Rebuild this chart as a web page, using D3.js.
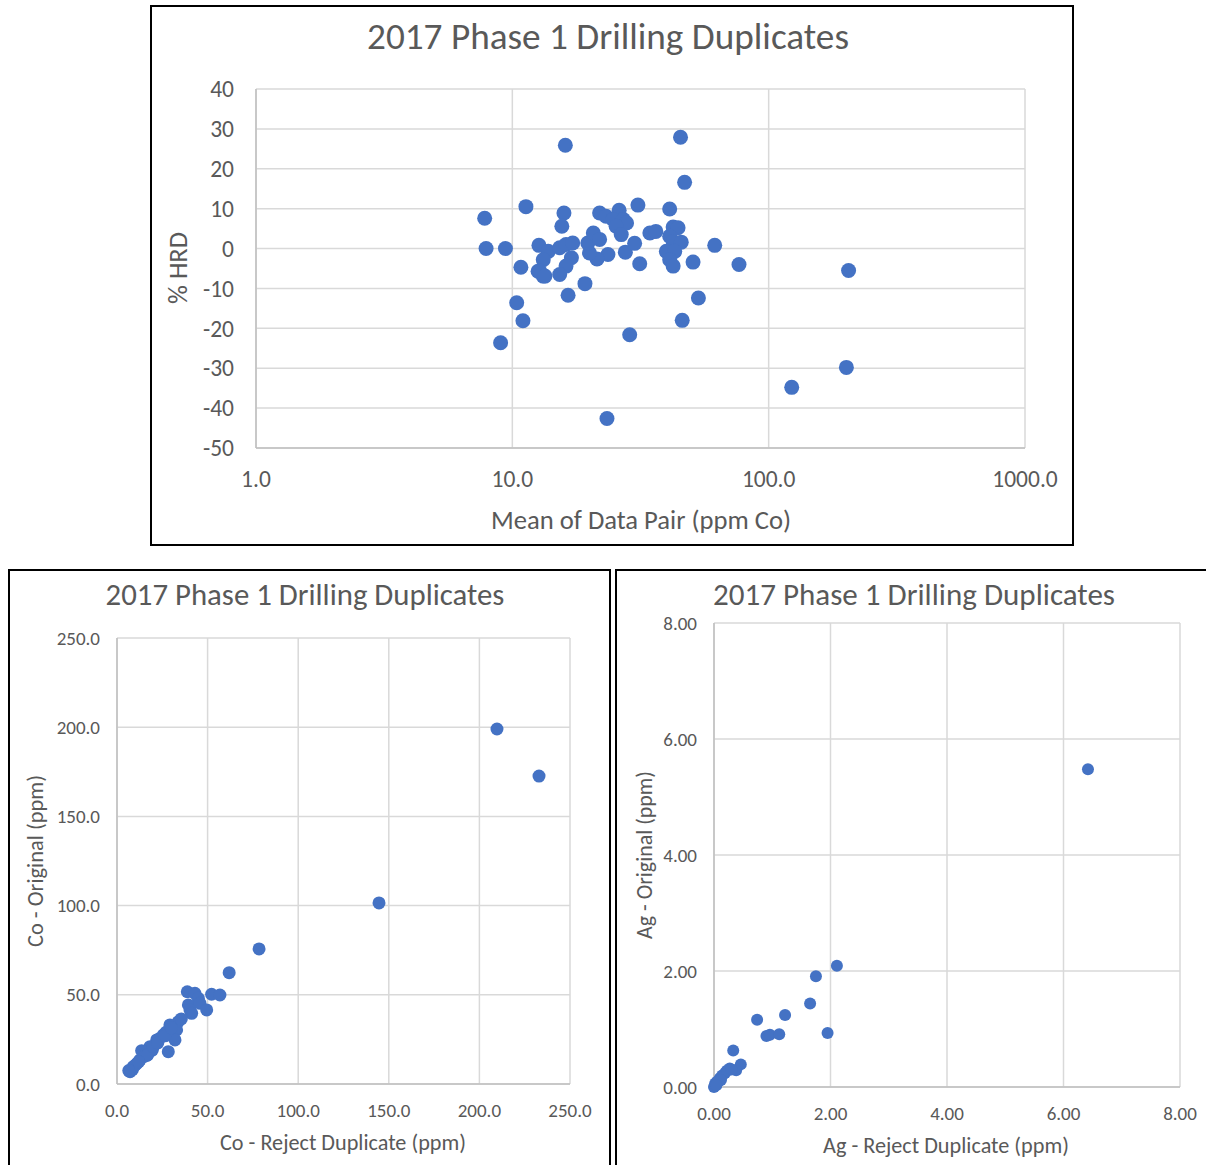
<!DOCTYPE html>
<html><head><meta charset="utf-8">
<script src="https://cdn.jsdelivr.net/npm/d3@7"></script>
<style>body{margin:0;background:#fff}svg{display:block}text{font-family:Carlito,Calibri,Lato,"Open Sans",sans-serif;fill:#595959}</style>
</head><body>
<svg id="c" width="1206" height="1165"></svg>
<script>
const chartTitle = "2017 Phase 1 Drilling Duplicates";
// Chart 1: Mean of data pair (ppm Co) vs % HRD
const hrdMean = [11.3,7.8,7.9,9.4,12.7,10.8,12.6,13.2,10.4,11.0,9.0,
  16.1,45.3,47.0,15.9,15.6,21.9,26.1,30.9,41.1,23.2,24.7,27.1,27.9,25.4,26.6,34.4,42.4,44.3,
  41.1,42.4,45.6,39.9,43.0,41.1,42.4,61.6,50.7,76.6,53.2,46.0,31.4,27.6,30.0,
  23.6,21.4,20.0,19.7,20.7,21.9,19.2,16.5,13.8,13.2,12.8,13.4,
  15.3,16.2,17.2,17.0,16.2,15.3,205,201,123,23.4,28.7,36.3];
const hrdValue = [10.5,7.6,0,0,0.8,-4.7,-5.7,-6.9,-13.6,-18.1,-23.6,
  25.9,27.9,16.6,8.9,5.6,8.9,9.6,10.9,9.9,8.1,7.3,7.3,6.4,5.6,3.5,3.9,5.4,5.2,
  3.1,1.8,1.6,-0.7,-0.7,-2.8,-4.4,0.8,-3.4,-4.0,-12.4,-18.0,-3.8,-0.9,1.3,
  -1.5,-2.6,-1.1,1.4,3.9,2.3,-8.8,-11.7,-0.7,-2.8,-5.7,-6.9,
  0.2,1.0,1.4,-2.3,-4.4,-6.5,-5.5,-29.8,-34.8,-42.6,-21.6,4.3];
const hrdXTicks = [1,10,100,1000];
const hrdYTicks = [40,30,20,10,0,-10,-20,-30,-40,-50];

// Chart 2: Co reject duplicate vs Co original
const coDup  = [209.7,232.9,144.6,78.4,61.9,38.8,43.0,44.9,52.2,56.8,39.4,40.3,41.2,45.8,49.5,33.8,29.2,32.9,32.0,28.3,25.6,21.9,18.2,14.5,12.7,9.0,7.2,13.6,16.5,11.0,23.5,19.5,27.0,35.5,8.5,
  10.0,15.0,17.0,20.0,22.5,26.5,30.0,12.0,6.5];
const coOrig = [199.0,172.6,101.5,75.7,62.4,51.7,50.8,48.0,50.3,49.9,44.3,41.5,39.6,45.2,41.5,34.9,33.1,30.3,24.7,18.1,27.5,24.7,20.9,18.1,13.5,9.7,6.9,18.7,16.0,11.5,25.5,19.0,29.0,36.5,8.0,
  10.5,15.5,16.5,21.0,23.0,27.0,31.5,12.5,7.5];
const coTicks = [0,50,100,150,200,250];

// Chart 3: Ag reject duplicate vs Ag original
const agDup  = [6.42,2.11,1.75,1.65,1.95,1.22,0.74,0.90,0.96,1.12,0.33,0.46,0.38,0.27,0.19,0.10,0.02,0.00,0.05,0.14,0.22,0.30,0.08,0.12,0.04];
const agOrig = [5.48,2.09,1.91,1.44,0.93,1.24,1.16,0.88,0.90,0.91,0.63,0.39,0.29,0.32,0.24,0.15,0.06,0.00,0.09,0.20,0.28,0.30,0.10,0.12,0.03];
const agTicks = [0,2,4,6,8];

const BLUE = "#4472C4", GRID = "#d9d9d9";
const svg = d3.select("#c");

function fit(t, w){
  let fs = parseFloat(t.attr("font-size"));
  const L = t.node().getComputedTextLength();
  t.attr("font-size", (fs*w/L).toFixed(2));
}

// frames
svg.append("rect").attr("x",151).attr("y",6).attr("width",922).attr("height",539).attr("fill","none").attr("stroke","#000").attr("stroke-width",2);
svg.append("rect").attr("x",9).attr("y",570).attr("width",601).attr("height",620).attr("fill","none").attr("stroke","#000").attr("stroke-width",2);
svg.append("rect").attr("x",616).attr("y",570).attr("width",620).attr("height",620).attr("fill","none").attr("stroke","#000").attr("stroke-width",2);

function drawChart(o){
  const g = svg.append("g");
  const x = o.x, y = o.y;
  const [x0,x1] = x.range(), [y0,y1] = y.range();
  g.selectAll(".hg").data(o.yTicks).join("line")
    .attr("x1",x0).attr("x2",x1).attr("y1",d=>y(d)).attr("y2",d=>y(d))
    .attr("stroke",GRID).attr("stroke-width",1.5);
  g.selectAll(".vg").data(o.xTicks).join("line")
    .attr("y1",y0).attr("y2",y1).attr("x1",d=>x(d)).attr("x2",d=>x(d))
    .attr("stroke",GRID).attr("stroke-width",1.5);
  g.append("line").attr("x1",x0).attr("x2",x1).attr("y1",y(o.yBase)).attr("y2",y(o.yBase)).attr("stroke","#bfbfbf").attr("stroke-width",1.5);
  g.append("line").attr("x1",x0).attr("x2",x0).attr("y1",y0).attr("y2",y1).attr("stroke","#bfbfbf").attr("stroke-width",1.5);
  g.selectAll(".yl").data(o.yTicks).join("text")
    .attr("x",o.yLabX).attr("y",d=>y(d)).attr("dy","0.35em").attr("text-anchor","end")
    .attr("font-size",o.tickFs).text(o.yFmt);
  g.selectAll(".xl").data(o.xTicks).join("text")
    .attr("x",d=>x(d)).attr("y",o.xLabY).attr("dy","0.35em").attr("text-anchor","middle")
    .attr("font-size",o.tickFs).text(o.xFmt);
  g.selectAll("circle").data(o.xs.map((v,i)=>[v,o.ys[i]])).join("circle")
    .attr("cx",d=>x(d[0])).attr("cy",d=>y(d[1])).attr("r",o.r).attr("fill",BLUE);
  const t = g.append("text").attr("x",o.title[0]).attr("y",o.title[1]).attr("dy","0.35em")
    .attr("text-anchor","middle").attr("font-size",o.title[3]).text(chartTitle);
  fit(t,o.title[2]);
  const xt = g.append("text").attr("x",o.xTitle[0]).attr("y",o.xTitle[1]).attr("dy","0.35em")
    .attr("text-anchor","middle").attr("font-size",o.xTitle[4]).text(o.xTitle[3]);
  fit(xt,o.xTitle[2]);
  const yt = g.append("text").attr("transform",`translate(${o.yTitle[0]},${o.yTitle[1]}) rotate(-90)`).attr("dy","0.35em")
    .attr("text-anchor","middle").attr("font-size",o.yTitle[4]).text(o.yTitle[3]);
  fit(yt,o.yTitle[2]);
}

drawChart({
  x: d3.scaleLog().domain([1,1000]).range([256,1025]),
  y: d3.scaleLinear().domain([-50,40]).range([448,89]),
  xTicks: hrdXTicks, yTicks: hrdYTicks, yBase: -50,
  xFmt: d3.format(".1f"), yFmt: d=>String(d),
  xs: hrdMean, ys: hrdValue, r: 7.5,
  yLabX: 234, xLabY: 479, tickFs: 23.5,
  title: [608, 36, 482, 30],
  xTitle: [641, 520, 300, "Mean of Data Pair (ppm Co)", 22],
  yTitle: [178, 268, 72, "% HRD", 22]
});

drawChart({
  x: d3.scaleLinear().domain([0,250]).range([117,570]),
  y: d3.scaleLinear().domain([0,250]).range([1084,638]),
  xTicks: coTicks, yTicks: coTicks, yBase: 0,
  xFmt: d3.format(".1f"), yFmt: d3.format(".1f"),
  xs: coDup, ys: coOrig, r: 6.5,
  yLabX: 100, xLabY: 1110, tickFs: 19,
  title: [305, 594, 399, 26],
  xTitle: [343, 1142, 246, "Co - Reject Duplicate (ppm)", 19],
  yTitle: [35, 861, 172, "Co - Original (ppm)", 19]
});

drawChart({
  x: d3.scaleLinear().domain([0,8]).range([714,1180]),
  y: d3.scaleLinear().domain([0,8]).range([1087,623]),
  xTicks: agTicks, yTicks: agTicks, yBase: 0,
  xFmt: d3.format(".2f"), yFmt: d3.format(".2f"),
  xs: agDup, ys: agOrig, r: 6,
  yLabX: 697, xLabY: 1113, tickFs: 19,
  title: [914, 594, 402, 26],
  xTitle: [946, 1145, 246, "Ag - Reject Duplicate (ppm)", 19],
  yTitle: [644, 855, 168, "Ag - Original (ppm)", 19]
});
</script>
</body></html>
